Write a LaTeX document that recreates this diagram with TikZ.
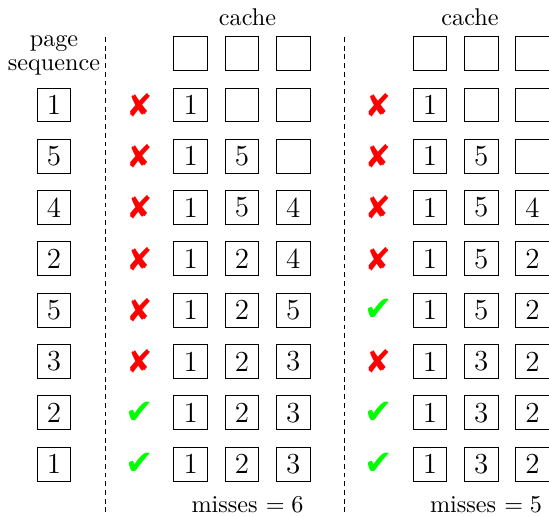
\documentclass[tikz,border=0pt]{standalone}
\usepackage{pifont}
\usepackage{fontspec}
\newfontfamily\dejavu{DejaVu Sans}
\newcommand\symmiss{\ding{56}}
\newcommand\symhit{{\dejavu ✔}}
\begin{document}
\begin{tikzpicture}[x=0.4132pt,y=-0.4132pt,
  cbox/.style={draw,line width=0.42pt,minimum size=14pt,inner sep=0pt,font=\large},
  miss/.style={text=red,font=\fontsize{13.5}{15}\selectfont,inner sep=0pt},
  hit/.style={text=green,font=\fontsize{14}{16}\selectfont,inner sep=0pt},
  lbl/.style={anchor=base,inner sep=0pt},
  sep/.style={line width=0.42pt,dash pattern=on 2pt off 1.6pt}]
\useasboundingbox (0,0) rectangle (549,517);
% labels
\node[lbl,align=center] (ps) at (54,71) {page\\[-2pt]sequence};
\node[lbl] (cacheL) at (247.5,26) {cache};
\node[lbl] (cacheR) at (470,26) {cache};
\node[lbl] (missL) at (247.5,513) {misses $=6$};
\node[lbl] (missR) at (486,513) {misses $=5$};
% separators
\coordinate (sLt) at (105.6,37); \coordinate (sLb) at (105.6,512);
\coordinate (sRt) at (344.5,37); \coordinate (sRb) at (344.5,512);
\draw[sep] (sLt) -- (sLb);
\draw[sep] (sRt) -- (sRb);
% top empty caches
\foreach \j/\x in {1/190.7,2/242,3/293.3} \node[cbox] (L0\j) at (\x,53.7) {};
\foreach \j/\x in {1/430,2/481.3,3/532.6} \node[cbox] (R0\j) at (\x,53.7) {};
% rows
\foreach \i/\p/\ma/\la/\lb/\lc/\mb/\ra/\rb/\rc in {
  1/1/miss/1/{}/{}/miss/1/{}/{},
  2/5/miss/1/5/{}/miss/1/5/{},
  3/4/miss/1/5/4/miss/1/5/4,
  4/2/miss/1/2/4/miss/1/5/2,
  5/5/miss/1/2/5/hit/1/5/2,
  6/3/miss/1/2/3/miss/1/3/2,
  7/2/hit/1/2/3/hit/1/3/2,
  8/1/hit/1/2/3/hit/1/3/2}{
  \pgfmathsetmacro{\yy}{105+(\i-1)*51.3}
  \node[cbox] (P\i) at (54,\yy) {\p};
  \node[\ma] (mL\i) at (140,\yy) {\csname sym\ma\endcsname};
  \node[cbox] (L\i1) at (190.7,\yy) {\la};
  \node[cbox] (L\i2) at (242,\yy) {\lb};
  \node[cbox] (L\i3) at (293.3,\yy) {\lc};
  \node[\mb] (mR\i) at (378.5,\yy) {\csname sym\mb\endcsname};
  \node[cbox] (R\i1) at (430,\yy) {\ra};
  \node[cbox] (R\i2) at (481.3,\yy) {\rb};
  \node[cbox] (R\i3) at (532.6,\yy) {\rc};
}
\end{tikzpicture}
\end{document}
